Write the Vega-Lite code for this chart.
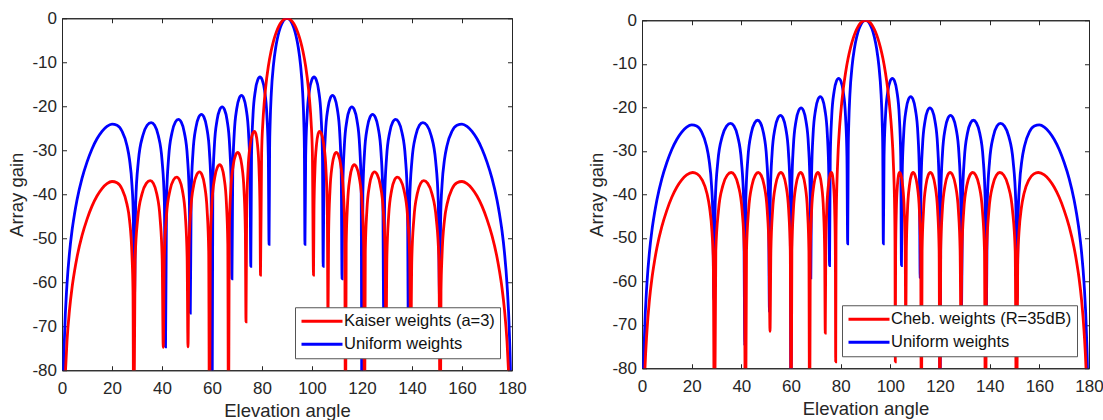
{
"$schema": "https://vega.github.io/schema/vega-lite/v6.json",
"padding": {"left": 7, "top": 8, "right": 5, "bottom": 0},
"background": "white",
"center": true,
"config": {
  "view": {"stroke": "#262626", "strokeWidth": 1},
  "axis": {"labelFont": "Liberation Sans", "titleFont": "Liberation Sans", "labelFontSize": 17, "titleFontSize": 18.5, "titleFontWeight": "normal", "labelColor": "#262626", "titleColor": "#262626", "domainColor": "#262626", "tickColor": "#262626", "grid": false, "tickSize": -4.5, "domainWidth": 1, "tickWidth": 1, "labelFlush": false, "labelExpr": "'' + datum.value"},
  "legend": {"orient": "bottom-right", "offset": 12, "title": null, "strokeColor": "#555555", "fillColor": "white", "padding": 5, "symbolType": "M-2.733,0L2.733,0", "symbolSize": 225, "symbolOffset": 13, "symbolStrokeWidth": 2.8, "labelFont": "Liberation Sans", "labelFontSize": 16.5, "labelColor": "#111111", "rowPadding": 5, "labelOffset": 13, "labelLimit": 400}
},
"data": {"values": [
{"s":"U","x":0,"y":-120},{"s":"U","x":0.5,"y":-84.5},{"s":"U","x":1,"y":-72.4},{"s":"U","x":2,"y":-60.4},{"s":"U","x":3,"y":-53.3},{"s":"U","x":4,"y":-48.3},{"s":"U","x":5,"y":-44.5},{"s":"U","x":6,"y":-41.3},{"s":"U","x":8,"y":-36.4},{"s":"U","x":10,"y":-32.7},{"s":"U","x":12,"y":-29.7},{"s":"U","x":14,"y":-27.4},{"s":"U","x":16,"y":-25.7},{"s":"U","x":18,"y":-24.57},{"s":"U","x":20,"y":-24.06},{"s":"U","x":22,"y":-24.32},{"s":"U","x":24,"y":-25.68},{"s":"U","x":26,"y":-28.96},{"s":"U","x":27,"y":-32.09},{"s":"U","x":28,"y":-37.98},{"s":"U","x":28.5,"y":-44.3},{"s":"U","x":28.955,"y":-64.3},
{"s":"U","x":29.49,"y":-41.7},{"s":"U","x":30.56,"y":-32.38},{"s":"U","x":32.31,"y":-26.71},{"s":"U","x":34.05,"y":-24.33},{"s":"U","x":35.66,"y":-23.7},{"s":"U","x":37.04,"y":-24.33},{"s":"U","x":38.54,"y":-26.71},{"s":"U","x":40.03,"y":-32.38},{"s":"U","x":40.95,"y":-41.7},{"s":"U","x":41.41,"y":-74.7},
{"s":"U","x":41.82,"y":-40.99},{"s":"U","x":42.65,"y":-31.67},{"s":"U","x":43.99,"y":-26.0},{"s":"U","x":45.33,"y":-23.62},{"s":"U","x":46.57,"y":-22.99},{"s":"U","x":47.71,"y":-23.62},{"s":"U","x":48.95,"y":-26.0},{"s":"U","x":50.18,"y":-31.67},{"s":"U","x":50.94,"y":-40.99},{"s":"U","x":51.32,"y":-67},
{"s":"U","x":51.68,"y":-39.85},{"s":"U","x":52.39,"y":-30.53},{"s":"U","x":53.55,"y":-24.86},{"s":"U","x":54.7,"y":-22.48},{"s":"U","x":55.77,"y":-21.85},{"s":"U","x":56.79,"y":-22.48},{"s":"U","x":57.89,"y":-24.86},{"s":"U","x":58.99,"y":-30.53},{"s":"U","x":59.66,"y":-39.85},{"s":"U","x":60,"y":-100},
{"s":"U","x":60.33,"y":-38.13},{"s":"U","x":60.97,"y":-28.81},{"s":"U","x":62.03,"y":-23.14},{"s":"U","x":63.09,"y":-20.76},{"s":"U","x":64.06,"y":-20.13},{"s":"U","x":65.0,"y":-20.76},{"s":"U","x":66.02,"y":-23.14},{"s":"U","x":67.04,"y":-28.81},{"s":"U","x":67.67,"y":-38.13},{"s":"U","x":67.98,"y":-59.2},
{"s":"U","x":68.29,"y":-35.55},{"s":"U","x":68.89,"y":-26.23},{"s":"U","x":69.89,"y":-20.56},{"s":"U","x":70.88,"y":-18.18},{"s":"U","x":71.79,"y":-17.55},{"s":"U","x":72.69,"y":-18.18},{"s":"U","x":73.66,"y":-20.56},{"s":"U","x":74.63,"y":-26.23},{"s":"U","x":75.22,"y":-35.55},{"s":"U","x":75.52,"y":-56.4},
{"s":"U","x":75.81,"y":-31.34},{"s":"U","x":76.4,"y":-22.02},{"s":"U","x":77.36,"y":-16.35},{"s":"U","x":78.31,"y":-13.97},{"s":"U","x":79.19,"y":-13.34},{"s":"U","x":80.06,"y":-13.97},{"s":"U","x":81.01,"y":-16.35},{"s":"U","x":81.95,"y":-22.02},{"s":"U","x":82.53,"y":-31.34},{"s":"U","x":82.82,"y":-51.4},
{"s":"U","x":83.05,"y":-29.6},{"s":"U","x":83.27,"y":-23.53},{"s":"U","x":83.72,"y":-17.08},{"s":"U","x":84.62,"y":-10.42},{"s":"U","x":85.52,"y":-6.52},{"s":"U","x":86.42,"y":-3.91},{"s":"U","x":87.31,"y":-2.1},{"s":"U","x":88.21,"y":-0.91},{"s":"U","x":89.1,"y":-0.22},{"s":"U","x":90,"y":0},{"s":"U","x":90.9,"y":-0.22},{"s":"U","x":91.79,"y":-0.91},{"s":"U","x":92.69,"y":-2.1},{"s":"U","x":93.58,"y":-3.91},{"s":"U","x":94.48,"y":-6.52},{"s":"U","x":95.38,"y":-10.42},{"s":"U","x":96.28,"y":-17.08},{"s":"U","x":96.73,"y":-23.53},{"s":"U","x":96.95,"y":-29.6},{"s":"U","x":97.18,"y":-51.4},
{"s":"U","x":97.47,"y":-31.34},{"s":"U","x":98.05,"y":-22.02},{"s":"U","x":98.99,"y":-16.35},{"s":"U","x":99.94,"y":-13.97},{"s":"U","x":100.81,"y":-13.34},{"s":"U","x":101.69,"y":-13.97},{"s":"U","x":102.64,"y":-16.35},{"s":"U","x":103.6,"y":-22.02},{"s":"U","x":104.19,"y":-31.34},{"s":"U","x":104.48,"y":-56.4},
{"s":"U","x":104.78,"y":-35.55},{"s":"U","x":105.37,"y":-26.23},{"s":"U","x":106.34,"y":-20.56},{"s":"U","x":107.31,"y":-18.18},{"s":"U","x":108.21,"y":-17.55},{"s":"U","x":109.12,"y":-18.18},{"s":"U","x":110.11,"y":-20.56},{"s":"U","x":111.11,"y":-26.23},{"s":"U","x":111.71,"y":-35.55},{"s":"U","x":112.02,"y":-59.2},
{"s":"U","x":112.33,"y":-38.13},{"s":"U","x":112.96,"y":-28.81},{"s":"U","x":113.98,"y":-23.14},{"s":"U","x":115.0,"y":-20.76},{"s":"U","x":115.94,"y":-20.13},{"s":"U","x":116.91,"y":-20.76},{"s":"U","x":117.97,"y":-23.14},{"s":"U","x":119.03,"y":-28.81},{"s":"U","x":119.67,"y":-38.13},{"s":"U","x":120,"y":-100},
{"s":"U","x":120.34,"y":-39.85},{"s":"U","x":121.01,"y":-30.53},{"s":"U","x":122.11,"y":-24.86},{"s":"U","x":123.21,"y":-22.48},{"s":"U","x":124.23,"y":-21.85},{"s":"U","x":125.3,"y":-22.48},{"s":"U","x":126.45,"y":-24.86},{"s":"U","x":127.61,"y":-30.53},{"s":"U","x":128.32,"y":-39.85},{"s":"U","x":128.68,"y":-67},
{"s":"U","x":129.06,"y":-40.99},{"s":"U","x":129.82,"y":-31.67},{"s":"U","x":131.05,"y":-26.0},{"s":"U","x":132.29,"y":-23.62},{"s":"U","x":133.43,"y":-22.99},{"s":"U","x":134.67,"y":-23.62},{"s":"U","x":136.01,"y":-26.0},{"s":"U","x":137.35,"y":-31.67},{"s":"U","x":138.18,"y":-40.99},{"s":"U","x":138.59,"y":-74.7},
{"s":"U","x":139.05,"y":-41.7},{"s":"U","x":139.97,"y":-32.38},{"s":"U","x":141.46,"y":-26.71},{"s":"U","x":142.96,"y":-24.33},{"s":"U","x":144.34,"y":-23.7},{"s":"U","x":145.95,"y":-24.33},{"s":"U","x":147.69,"y":-26.71},{"s":"U","x":149.44,"y":-32.38},{"s":"U","x":150.51,"y":-41.7},{"s":"U","x":151.045,"y":-64.3},
{"s":"U","x":151.5,"y":-44.3},{"s":"U","x":152,"y":-37.98},{"s":"U","x":153,"y":-32.09},{"s":"U","x":154,"y":-28.96},{"s":"U","x":156,"y":-25.68},{"s":"U","x":158,"y":-24.32},{"s":"U","x":160,"y":-24.06},{"s":"U","x":162,"y":-24.57},{"s":"U","x":164,"y":-25.7},{"s":"U","x":166,"y":-27.4},{"s":"U","x":168,"y":-29.7},{"s":"U","x":170,"y":-32.7},{"s":"U","x":172,"y":-36.4},{"s":"U","x":174,"y":-41.3},{"s":"U","x":175,"y":-44.5},{"s":"U","x":176,"y":-48.3},{"s":"U","x":177,"y":-53.3},{"s":"U","x":178,"y":-60.4},{"s":"U","x":179,"y":-72.4},{"s":"U","x":179.5,"y":-84.5},{"s":"U","x":180,"y":-120},

{"s":"K","x":0,"y":-120},{"s":"K","x":1,"y":-85.4},{"s":"K","x":1.5,"y":-79},{"s":"K","x":2,"y":-73.4},{"s":"K","x":3,"y":-66.3},{"s":"K","x":4,"y":-61.3},{"s":"K","x":5,"y":-57.5},{"s":"K","x":6,"y":-54.3},{"s":"K","x":8,"y":-49.4},{"s":"K","x":10,"y":-45.7},{"s":"K","x":12,"y":-42.7},{"s":"K","x":14,"y":-40.4},{"s":"K","x":16,"y":-38.7},{"s":"K","x":18,"y":-37.6},{"s":"K","x":20,"y":-37.1},{"s":"K","x":22,"y":-37.4},{"s":"K","x":24,"y":-38.8},{"s":"K","x":26,"y":-42.3},{"s":"K","x":27,"y":-45.8},{"s":"K","x":28,"y":-54},{"s":"K","x":28.4,"y":-62},{"s":"K","x":28.7,"y":-100},
{"s":"K","x":29.23,"y":-54.9},{"s":"K","x":30.28,"y":-45.58},{"s":"K","x":32.0,"y":-39.91},{"s":"K","x":33.72,"y":-37.53},{"s":"K","x":35.3,"y":-36.9},{"s":"K","x":36.55,"y":-37.53},{"s":"K","x":37.9,"y":-39.91},{"s":"K","x":39.25,"y":-45.58},{"s":"K","x":40.08,"y":-54.9},{"s":"K","x":40.5,"y":-74.8},
{"s":"K","x":40.93,"y":-54.1},{"s":"K","x":41.8,"y":-44.78},{"s":"K","x":43.2,"y":-39.11},{"s":"K","x":44.6,"y":-36.73},{"s":"K","x":45.9,"y":-36.1},{"s":"K","x":46.98,"y":-36.73},{"s":"K","x":48.15,"y":-39.11},{"s":"K","x":49.32,"y":-44.78},{"s":"K","x":50.04,"y":-54.1},{"s":"K","x":50.4,"y":-74.7},
{"s":"K","x":50.77,"y":-52.9},{"s":"K","x":51.5,"y":-43.58},{"s":"K","x":52.7,"y":-37.91},{"s":"K","x":53.9,"y":-35.53},{"s":"K","x":55.0,"y":-34.9},{"s":"K","x":55.96,"y":-35.53},{"s":"K","x":57.0,"y":-37.91},{"s":"K","x":58.04,"y":-43.58},{"s":"K","x":58.68,"y":-52.9},{"s":"K","x":59.0,"y":-100},
{"s":"K","x":59.33,"y":-51.3},{"s":"K","x":59.98,"y":-41.98},{"s":"K","x":61.05,"y":-36.31},{"s":"K","x":62.12,"y":-33.93},{"s":"K","x":63.1,"y":-33.3},{"s":"K","x":63.94,"y":-33.93},{"s":"K","x":64.85,"y":-36.31},{"s":"K","x":65.76,"y":-41.98},{"s":"K","x":66.32,"y":-51.3},{"s":"K","x":66.6,"y":-100},
{"s":"K","x":66.9,"y":-48.5},{"s":"K","x":67.49,"y":-39.18},{"s":"K","x":68.45,"y":-33.51},{"s":"K","x":69.41,"y":-31.13},{"s":"K","x":70.3,"y":-30.5},{"s":"K","x":71.09,"y":-31.13},{"s":"K","x":71.95,"y":-33.51},{"s":"K","x":72.81,"y":-39.18},{"s":"K","x":73.34,"y":-48.5},{"s":"K","x":73.6,"y":-69},
{"s":"K","x":73.87,"y":-43.7},{"s":"K","x":74.42,"y":-34.38},{"s":"K","x":75.3,"y":-28.71},{"s":"K","x":76.18,"y":-26.33},{"s":"K","x":77.0,"y":-25.7},{"s":"K","x":77.58,"y":-26.33},{"s":"K","x":78.2,"y":-28.71},{"s":"K","x":78.82,"y":-34.38},{"s":"K","x":79.21,"y":-43.7},{"s":"K","x":79.4,"y":-58.4},
{"s":"K","x":79.84,"y":-30.85},{"s":"K","x":80.37,"y":-23.5},{"s":"K","x":80.91,"y":-19.07},{"s":"K","x":81.44,"y":-15.8},{"s":"K","x":82.51,"y":-11.04},{"s":"K","x":83.58,"y":-7.62},{"s":"K","x":84.65,"y":-5.07},{"s":"K","x":85.72,"y":-3.15},{"s":"K","x":86.79,"y":-1.73},{"s":"K","x":87.86,"y":-0.76},{"s":"K","x":88.93,"y":-0.19},{"s":"K","x":90,"y":0},{"s":"K","x":91.07,"y":-0.19},{"s":"K","x":92.14,"y":-0.76},{"s":"K","x":93.21,"y":-1.73},{"s":"K","x":94.28,"y":-3.15},{"s":"K","x":95.35,"y":-5.07},{"s":"K","x":96.42,"y":-7.62},{"s":"K","x":97.49,"y":-11.04},{"s":"K","x":98.56,"y":-15.8},{"s":"K","x":99.09,"y":-19.07},{"s":"K","x":99.63,"y":-23.5},{"s":"K","x":100.16,"y":-30.85},{"s":"K","x":100.6,"y":-58.4},
{"s":"K","x":100.79,"y":-43.7},{"s":"K","x":101.18,"y":-34.38},{"s":"K","x":101.8,"y":-28.71},{"s":"K","x":102.42,"y":-26.33},{"s":"K","x":103.0,"y":-25.7},{"s":"K","x":103.82,"y":-26.33},{"s":"K","x":104.7,"y":-28.71},{"s":"K","x":105.58,"y":-34.38},{"s":"K","x":106.13,"y":-43.7},{"s":"K","x":106.4,"y":-69},
{"s":"K","x":106.66,"y":-48.5},{"s":"K","x":107.19,"y":-39.18},{"s":"K","x":108.05,"y":-33.51},{"s":"K","x":108.91,"y":-31.13},{"s":"K","x":109.7,"y":-30.5},{"s":"K","x":110.59,"y":-31.13},{"s":"K","x":111.55,"y":-33.51},{"s":"K","x":112.51,"y":-39.18},{"s":"K","x":113.1,"y":-48.5},{"s":"K","x":113.4,"y":-100},
{"s":"K","x":113.68,"y":-51.3},{"s":"K","x":114.24,"y":-41.98},{"s":"K","x":115.15,"y":-36.31},{"s":"K","x":116.06,"y":-33.93},{"s":"K","x":116.9,"y":-33.3},{"s":"K","x":117.88,"y":-33.93},{"s":"K","x":118.95,"y":-36.31},{"s":"K","x":120.02,"y":-41.98},{"s":"K","x":120.67,"y":-51.3},{"s":"K","x":121.0,"y":-100},
{"s":"K","x":121.32,"y":-52.9},{"s":"K","x":121.96,"y":-43.58},{"s":"K","x":123.0,"y":-37.91},{"s":"K","x":124.04,"y":-35.53},{"s":"K","x":125.0,"y":-34.9},{"s":"K","x":126.1,"y":-35.53},{"s":"K","x":127.3,"y":-37.91},{"s":"K","x":128.5,"y":-43.58},{"s":"K","x":129.23,"y":-52.9},{"s":"K","x":129.6,"y":-74.7},
{"s":"K","x":129.96,"y":-54.1},{"s":"K","x":130.68,"y":-44.78},{"s":"K","x":131.85,"y":-39.11},{"s":"K","x":133.02,"y":-36.73},{"s":"K","x":134.1,"y":-36.1},{"s":"K","x":135.4,"y":-36.73},{"s":"K","x":136.8,"y":-39.11},{"s":"K","x":138.2,"y":-44.78},{"s":"K","x":139.07,"y":-54.1},{"s":"K","x":139.5,"y":-74.8},
{"s":"K","x":139.92,"y":-54.9},{"s":"K","x":140.75,"y":-45.58},{"s":"K","x":142.1,"y":-39.91},{"s":"K","x":143.45,"y":-37.53},{"s":"K","x":144.7,"y":-36.9},{"s":"K","x":146.28,"y":-37.53},{"s":"K","x":148.0,"y":-39.91},{"s":"K","x":149.72,"y":-45.58},{"s":"K","x":150.77,"y":-54.9},{"s":"K","x":151.3,"y":-100},
{"s":"K","x":151.6,"y":-62},{"s":"K","x":152,"y":-54},{"s":"K","x":153,"y":-45.8},{"s":"K","x":154,"y":-42.3},{"s":"K","x":156,"y":-38.8},{"s":"K","x":158,"y":-37.4},{"s":"K","x":160,"y":-37.1},{"s":"K","x":162,"y":-37.6},{"s":"K","x":164,"y":-38.7},{"s":"K","x":166,"y":-40.4},{"s":"K","x":168,"y":-42.7},{"s":"K","x":170,"y":-45.7},{"s":"K","x":172,"y":-49.4},{"s":"K","x":174,"y":-54.3},{"s":"K","x":175,"y":-57.5},{"s":"K","x":176,"y":-61.3},{"s":"K","x":177,"y":-66.3},{"s":"K","x":178,"y":-73.4},{"s":"K","x":178.5,"y":-79},{"s":"K","x":179,"y":-85.4},{"s":"K","x":180,"y":-120},

{"s":"C","x":0,"y":-120},{"s":"C","x":0.5,"y":-95.5},{"s":"C","x":1,"y":-83.4},{"s":"C","x":2,"y":-71.4},{"s":"C","x":3,"y":-64.3},{"s":"C","x":4,"y":-59.3},{"s":"C","x":5,"y":-55.5},{"s":"C","x":6,"y":-52.3},{"s":"C","x":8,"y":-47.4},{"s":"C","x":10,"y":-43.7},{"s":"C","x":12,"y":-40.7},{"s":"C","x":14,"y":-38.4},{"s":"C","x":16,"y":-36.7},{"s":"C","x":18,"y":-35.57},{"s":"C","x":20.4,"y":-35.0},{"s":"C","x":22.2,"y":-35.32},{"s":"C","x":24.2,"y":-36.68},{"s":"C","x":26.2,"y":-39.9},{"s":"C","x":27.2,"y":-43.0},{"s":"C","x":28.2,"y":-48.8},{"s":"C","x":28.7,"y":-55},{"s":"C","x":29.18,"y":-100},
{"s":"C","x":29.72,"y":-53.0},{"s":"C","x":30.8,"y":-43.68},{"s":"C","x":32.55,"y":-38.01},{"s":"C","x":34.3,"y":-35.63},{"s":"C","x":35.92,"y":-35.0},{"s":"C","x":37.3,"y":-35.63},{"s":"C","x":38.8,"y":-38.01},{"s":"C","x":40.3,"y":-43.68},{"s":"C","x":41.22,"y":-53.0},{"s":"C","x":41.68,"y":-100},
{"s":"C","x":42.09,"y":-53.0},{"s":"C","x":42.92,"y":-43.68},{"s":"C","x":44.26,"y":-38.01},{"s":"C","x":45.6,"y":-35.63},{"s":"C","x":46.84,"y":-35.0},{"s":"C","x":47.97,"y":-35.63},{"s":"C","x":49.2,"y":-38.01},{"s":"C","x":50.42,"y":-43.68},{"s":"C","x":51.17,"y":-53.0},{"s":"C","x":51.55,"y":-71.5},
{"s":"C","x":51.9,"y":-53.0},{"s":"C","x":52.6,"y":-43.68},{"s":"C","x":53.75,"y":-38.01},{"s":"C","x":54.89,"y":-35.63},{"s":"C","x":55.94,"y":-35.0},{"s":"C","x":56.92,"y":-35.63},{"s":"C","x":57.99,"y":-38.01},{"s":"C","x":59.06,"y":-43.68},{"s":"C","x":59.71,"y":-53.0},{"s":"C","x":60.04,"y":-100},
{"s":"C","x":60.35,"y":-53.0},{"s":"C","x":60.96,"y":-43.68},{"s":"C","x":61.97,"y":-38.01},{"s":"C","x":62.97,"y":-35.63},{"s":"C","x":63.89,"y":-35.0},{"s":"C","x":64.76,"y":-35.63},{"s":"C","x":65.7,"y":-38.01},{"s":"C","x":66.63,"y":-43.68},{"s":"C","x":67.21,"y":-53.0},{"s":"C","x":67.5,"y":-100},
{"s":"C","x":67.77,"y":-53.0},{"s":"C","x":68.3,"y":-43.68},{"s":"C","x":69.17,"y":-38.01},{"s":"C","x":70.04,"y":-35.63},{"s":"C","x":70.84,"y":-35.0},{"s":"C","x":71.55,"y":-35.63},{"s":"C","x":72.32,"y":-38.01},{"s":"C","x":73.09,"y":-43.68},{"s":"C","x":73.56,"y":-53.0},{"s":"C","x":73.8,"y":-71.9},
{"s":"C","x":74.0,"y":-53.0},{"s":"C","x":74.4,"y":-43.68},{"s":"C","x":75.05,"y":-38.01},{"s":"C","x":75.7,"y":-35.63},{"s":"C","x":76.3,"y":-35.0},{"s":"C","x":76.71,"y":-35.63},{"s":"C","x":77.15,"y":-38.01},{"s":"C","x":77.59,"y":-43.68},{"s":"C","x":77.86,"y":-53.0},{"s":"C","x":78.0,"y":-78.5},
{"s":"C","x":78.12,"y":-51.1},{"s":"C","x":78.26,"y":-43.3},{"s":"C","x":78.46,"y":-38.0},{"s":"C","x":78.63,"y":-35.0},{"s":"C","x":79,"y":-29.8},{"s":"C","x":79.5,"y":-25.08},{"s":"C","x":80,"y":-21.5},{"s":"C","x":81,"y":-16.0},{"s":"C","x":82,"y":-11.94},{"s":"C","x":83,"y":-8.75},{"s":"C","x":84,"y":-6.22},{"s":"C","x":85,"y":-4.22},{"s":"C","x":86,"y":-2.64},{"s":"C","x":87,"y":-1.46},{"s":"C","x":88,"y":-0.63},{"s":"C","x":89,"y":-0.15},{"s":"C","x":90,"y":0},{"s":"C","x":91,"y":-0.15},{"s":"C","x":92,"y":-0.63},{"s":"C","x":93,"y":-1.46},{"s":"C","x":94,"y":-2.64},{"s":"C","x":95,"y":-4.22},{"s":"C","x":96,"y":-6.22},{"s":"C","x":97,"y":-8.75},{"s":"C","x":98,"y":-11.94},{"s":"C","x":99,"y":-16.0},{"s":"C","x":100,"y":-21.5},{"s":"C","x":100.5,"y":-25.08},{"s":"C","x":101,"y":-29.8},{"s":"C","x":101.37,"y":-35.0},{"s":"C","x":101.54,"y":-38.0},{"s":"C","x":101.74,"y":-43.3},{"s":"C","x":101.88,"y":-51.1},{"s":"C","x":102.0,"y":-78.5},
{"s":"C","x":102.14,"y":-53.0},{"s":"C","x":102.41,"y":-43.68},{"s":"C","x":102.85,"y":-38.01},{"s":"C","x":103.29,"y":-35.63},{"s":"C","x":103.7,"y":-35.0},{"s":"C","x":104.3,"y":-35.63},{"s":"C","x":104.95,"y":-38.01},{"s":"C","x":105.6,"y":-43.68},{"s":"C","x":106.0,"y":-53.0},{"s":"C","x":106.2,"y":-71.9},
{"s":"C","x":106.44,"y":-53.0},{"s":"C","x":106.91,"y":-43.68},{"s":"C","x":107.68,"y":-38.01},{"s":"C","x":108.45,"y":-35.63},{"s":"C","x":109.16,"y":-35.0},{"s":"C","x":109.96,"y":-35.63},{"s":"C","x":110.83,"y":-38.01},{"s":"C","x":111.7,"y":-43.68},{"s":"C","x":112.23,"y":-53.0},{"s":"C","x":112.5,"y":-100},
{"s":"C","x":112.79,"y":-53.0},{"s":"C","x":113.37,"y":-43.68},{"s":"C","x":114.3,"y":-38.01},{"s":"C","x":115.24,"y":-35.63},{"s":"C","x":116.11,"y":-35.0},{"s":"C","x":117.03,"y":-35.63},{"s":"C","x":118.03,"y":-38.01},{"s":"C","x":119.04,"y":-43.68},{"s":"C","x":119.65,"y":-53.0},{"s":"C","x":119.96,"y":-100},
{"s":"C","x":120.29,"y":-53.0},{"s":"C","x":120.94,"y":-43.68},{"s":"C","x":122.01,"y":-38.01},{"s":"C","x":123.08,"y":-35.63},{"s":"C","x":124.06,"y":-35.0},{"s":"C","x":125.11,"y":-35.63},{"s":"C","x":126.25,"y":-38.01},{"s":"C","x":127.4,"y":-43.68},{"s":"C","x":128.1,"y":-53.0},{"s":"C","x":128.45,"y":-71.5},
{"s":"C","x":128.83,"y":-53.0},{"s":"C","x":129.58,"y":-43.68},{"s":"C","x":130.8,"y":-38.01},{"s":"C","x":132.03,"y":-35.63},{"s":"C","x":133.16,"y":-35.0},{"s":"C","x":134.4,"y":-35.63},{"s":"C","x":135.74,"y":-38.01},{"s":"C","x":137.08,"y":-43.68},{"s":"C","x":137.91,"y":-53.0},{"s":"C","x":138.32,"y":-100},
{"s":"C","x":138.78,"y":-53.0},{"s":"C","x":139.7,"y":-43.68},{"s":"C","x":141.2,"y":-38.01},{"s":"C","x":142.7,"y":-35.63},{"s":"C","x":144.08,"y":-35.0},{"s":"C","x":145.7,"y":-35.63},{"s":"C","x":147.45,"y":-38.01},{"s":"C","x":149.2,"y":-43.68},{"s":"C","x":150.28,"y":-53.0},{"s":"C","x":150.82,"y":-100},
{"s":"C","x":151.3,"y":-55},{"s":"C","x":151.8,"y":-48.8},{"s":"C","x":152.8,"y":-43.0},{"s":"C","x":153.8,"y":-39.9},{"s":"C","x":155.8,"y":-36.68},{"s":"C","x":157.8,"y":-35.32},{"s":"C","x":159.6,"y":-35.0},{"s":"C","x":162,"y":-35.57},{"s":"C","x":164,"y":-36.7},{"s":"C","x":166,"y":-38.4},{"s":"C","x":168,"y":-40.7},{"s":"C","x":170,"y":-43.7},{"s":"C","x":172,"y":-47.4},{"s":"C","x":174,"y":-52.3},{"s":"C","x":175,"y":-55.5},{"s":"C","x":176,"y":-59.3},{"s":"C","x":177,"y":-64.3},{"s":"C","x":178,"y":-71.4},{"s":"C","x":179,"y":-83.4},{"s":"C","x":179.5,"y":-95.5},{"s":"C","x":180,"y":-120}
]},
"spacing": 60,
"resolve": {"scale": {"color": "independent"}, "legend": {"color": "independent"}},
"hconcat": [
 {
  "width": 450, "height": 352,
  "transform": [{"filter": {"field": "s", "oneOf": ["K", "U"]}}],
  "layer": [
   {"mark": {"type": "line", "clip": true, "strokeWidth": 2.8, "interpolate": "monotone"},
    "encoding": {
     "x": {"field": "x", "type": "quantitative", "scale": {"domain": [0, 180], "nice": false}, "axis": {"title": "Elevation angle", "values": [0,20,40,60,80,100,120,140,160,180], "labelPadding": 15, "titlePadding": 5}},
     "y": {"field": "y", "type": "quantitative", "scale": {"domain": [-80, 0], "nice": false}, "axis": {"title": "Array gain", "values": [-80,-70,-60,-50,-40,-30,-20,-10,0], "labelPadding": 10, "titlePadding": 5}},
     "color": {"field": "s", "type": "nominal", "scale": {"domain": ["K", "U"], "range": ["#ff0000", "#0000ff"]}, "legend": {"labelExpr": "datum.value == 'K' ? 'Kaiser weights (a=3)' : 'Uniform weights'"}}
    }},
   {"mark": {"type": "point", "opacity": 0, "clip": true},
    "encoding": {
     "x": {"field": "x", "type": "quantitative", "scale": {"domain": [0, 180], "nice": false}, "axis": {"orient": "top", "title": null, "labels": false, "values": [0,20,40,60,80,100,120,140,160,180]}},
     "y": {"field": "y", "type": "quantitative", "scale": {"domain": [-80, 0], "nice": false}, "axis": {"orient": "right", "title": null, "labels": false, "values": [-80,-70,-60,-50,-40,-30,-20,-10,0]}}
    }}
  ],
  "resolve": {"axis": {"x": "independent", "y": "independent"}}
 },
 {
  "width": 447, "height": 348,
  "transform": [{"filter": {"field": "s", "oneOf": ["C", "U"]}}],
  "layer": [
   {"mark": {"type": "line", "clip": true, "strokeWidth": 2.8, "interpolate": "monotone"},
    "encoding": {
     "x": {"field": "x", "type": "quantitative", "scale": {"domain": [0, 180], "nice": false}, "axis": {"title": "Elevation angle", "values": [0,20,40,60,80,100,120,140,160,180], "labelPadding": 15, "titlePadding": 5}},
     "y": {"field": "y", "type": "quantitative", "scale": {"domain": [-80, 0], "nice": false}, "axis": {"title": "Array gain", "values": [-80,-70,-60,-50,-40,-30,-20,-10,0], "labelPadding": 10, "titlePadding": 5}},
     "color": {"field": "s", "type": "nominal", "scale": {"domain": ["C", "U"], "range": ["#ff0000", "#0000ff"]}, "legend": {"labelExpr": "datum.value == 'C' ? 'Cheb. weights (R=35dB)' : 'Uniform weights'"}}
    }},
   {"mark": {"type": "point", "opacity": 0, "clip": true},
    "encoding": {
     "x": {"field": "x", "type": "quantitative", "scale": {"domain": [0, 180], "nice": false}, "axis": {"orient": "top", "title": null, "labels": false, "values": [0,20,40,60,80,100,120,140,160,180]}},
     "y": {"field": "y", "type": "quantitative", "scale": {"domain": [-80, 0], "nice": false}, "axis": {"orient": "right", "title": null, "labels": false, "values": [-80,-70,-60,-50,-40,-30,-20,-10,0]}}
    }}
  ],
  "resolve": {"axis": {"x": "independent", "y": "independent"}}
 }
]
}
